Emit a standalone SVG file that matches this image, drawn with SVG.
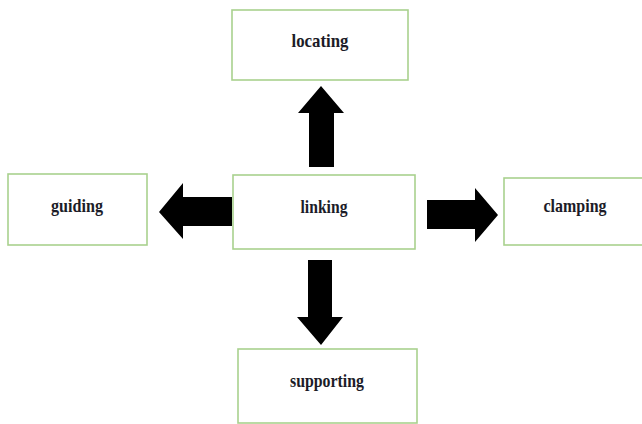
<svg xmlns="http://www.w3.org/2000/svg" width="642" height="424" viewBox="0 0 642 424">
<style>
.box{fill:#fff;stroke:#a9d18e;stroke-width:1.6}
.lbl{font-family:"Liberation Serif","Times New Roman",serif;font-weight:bold;font-size:19px;fill:#1c1c28;text-anchor:middle}
.arr{fill:#000}
</style>
<rect width="642" height="424" fill="#fff"/>
<g id="connectors">
<polygon class="arr" points="309,167 309,113 298,113 321,86 344,113 334,113 334,167"/>
<polygon class="arr" points="232,197 183,197 183,183 159,212 183,239 183,226 232,226"/>
<polygon class="arr" points="427,200 475,200 475,188 498,215 475,242 475,229 427,229"/>
<polygon class="arr" points="308,260 332,260 332,317 343,317 321,345 297,317 308,317"/>
</g>
<g id="locating"><rect class="box" x="232" y="10" width="176" height="70"/><text class="lbl" x="320" y="47" textLength="57" lengthAdjust="spacingAndGlyphs">locating</text></g>
<g id="guiding"><rect class="box" x="8" y="174" width="139" height="71"/><text class="lbl" x="77" y="212" textLength="52" lengthAdjust="spacingAndGlyphs">guiding</text></g>
<g id="linking"><rect class="box" x="233" y="175" width="182" height="74"/><text class="lbl" x="324" y="213" textLength="47" lengthAdjust="spacingAndGlyphs">linking</text></g>
<g id="clamping"><rect class="box" x="504" y="178" width="145" height="67"/><text class="lbl" x="575" y="212" textLength="63" lengthAdjust="spacingAndGlyphs">clamping</text></g>
<g id="supporting"><rect class="box" x="238" y="349" width="179" height="74"/><text class="lbl" x="327" y="387" textLength="74" lengthAdjust="spacingAndGlyphs">supporting</text></g>
</svg>
